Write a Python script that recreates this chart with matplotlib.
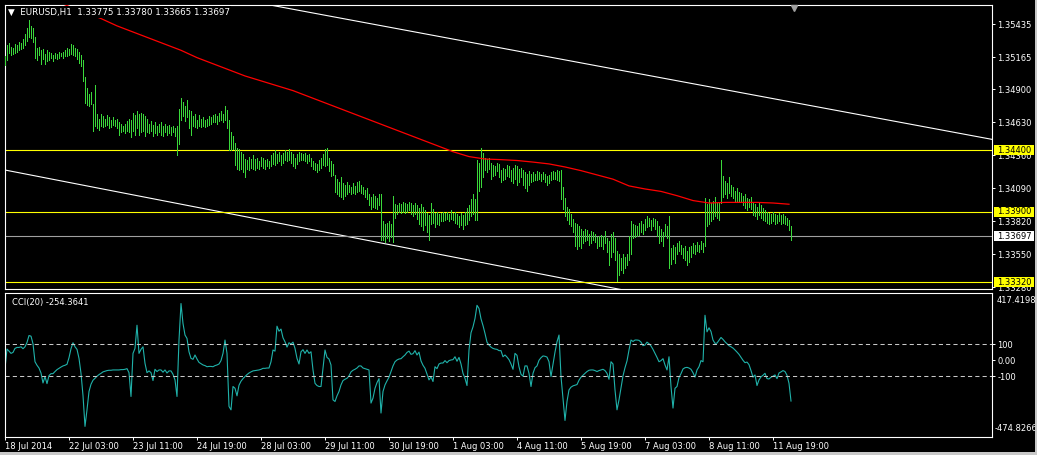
import numpy as np
import matplotlib
matplotlib.use('Agg')
import matplotlib.pyplot as plt
from matplotlib.patches import Rectangle

W, H = 1037, 455
BASE = 1.3300          # bar prices below are pips above BASE

# EURUSD H1, one value per bar
HIGH_PIPS = [
    217, 226, 228, 225, 224, 227, 226, 229, 228, 231, 235, 240, 247, 242, 240, 233,
    224, 225, 222, 223, 219, 222, 221, 220, 218, 220, 219, 221, 220, 221, 222, 224,
    223, 227, 226, 224, 223, 221, 218, 214, 200, 191, 186, 188, 178, 194, 170, 166,
    170, 168, 166, 169, 167, 165, 167, 165, 166, 163, 162, 160, 162, 164, 166, 165,
    171, 169, 172, 170, 171, 170, 168, 166, 162, 164, 161, 163, 160, 162, 163, 160,
    162, 160, 161, 159, 160, 158, 160, 174, 183, 180, 176, 181, 173, 172, 168, 170,
    165, 169, 166, 167, 165, 166, 168, 167, 169, 170, 168, 171, 172, 170, 176, 173,
    165, 155, 152, 146, 142, 141, 139, 137, 133, 132, 135, 133, 136, 133, 134, 131,
    135, 134, 132, 133, 131, 136, 138, 140, 137, 139, 136, 138, 140, 139, 141, 139,
    137, 134, 137, 139, 138, 137, 138, 136, 137, 134, 131, 130, 129, 132, 134, 137,
    141, 142, 134, 131, 129, 120, 117, 114, 118, 113, 112, 114, 112, 110, 113, 111,
    114, 115, 112, 110, 108, 109, 104, 102, 104, 103, 101, 104, 104, 82, 80, 81,
    82, 80, 103, 96, 95, 97, 96, 98, 97, 96, 98, 97, 95, 97, 95, 93,
    96, 94, 91, 89, 87, 97, 92, 89, 90, 88, 89, 90, 89, 90, 88, 91,
    89, 90, 88, 86, 89, 87, 90, 93, 95, 100, 104, 100, 132, 130, 142, 138,
    134, 133, 134, 130, 128, 127, 130, 129, 124, 126, 125, 128, 127, 124, 126, 128,
    127, 125, 126, 124, 122, 121, 123, 121, 122, 121, 123, 122, 121, 122, 121, 119,
    120, 122, 123, 122, 124, 123, 124, 110, 101, 94, 92, 88, 84, 81, 80, 78,
    76, 74, 76, 75, 72, 74, 73, 72, 69, 70, 71, 70, 74, 68, 66, 72,
    73, 68, 58, 55, 52, 55, 53, 55, 70, 82, 80, 79, 78, 81, 82, 80,
    84, 86, 85, 83, 85, 84, 82, 78, 76, 73, 80, 78, 86, 60, 63, 61,
    64, 66, 63, 60, 62, 58, 61, 62, 64, 63, 65, 63, 66, 64, 101, 96,
    100, 97, 99, 102, 97, 98, 132, 119, 115, 113, 118, 112, 110, 107, 109, 106,
    105, 103, 104, 101, 100, 102, 98, 96, 94, 97, 95, 93, 91, 90, 89, 88,
    90, 88, 87, 89, 87, 88, 86, 85, 83, 77.8,
]
LOW_PIPS = [
    210, 214, 220, 218, 219, 220, 221, 222, 223, 224, 226, 230, 233, 232, 229, 216,
    214, 218, 211, 215, 211, 213, 214, 216, 213, 216, 215, 216, 217, 216, 217, 217,
    218, 219, 218, 217, 215, 212, 209, 197, 179, 177, 176, 178, 156, 160, 158, 157,
    160, 159, 160, 161, 158, 159, 161, 160, 158, 153, 155, 156, 154, 156, 155, 151,
    156, 153, 158, 153, 155, 156, 152, 155, 154, 156, 152, 154, 153, 155, 153, 152,
    155, 153, 154, 153, 155, 152, 136, 145, 165, 168, 164, 167, 158, 153, 160, 159,
    158, 160, 159, 160, 159, 160, 161, 162, 163, 163, 162, 164, 165, 163, 165, 158,
    140, 140, 141, 128, 125, 124, 125, 122, 118, 125, 124, 126, 125, 124, 126, 125,
    127, 126, 125, 127, 126, 127, 129, 128, 130, 131, 128, 130, 132, 131, 132, 130,
    127, 126, 129, 131, 132, 132, 131, 130, 131, 127, 125, 124, 122, 124, 126, 128,
    127, 128, 123, 119, 120, 106, 104, 103, 102, 100, 103, 104, 106, 104, 105, 104,
    106, 107, 105, 104, 102, 100, 95, 92, 94, 93, 92, 95, 67, 67, 65, 68,
    66, 69, 65, 85, 88, 90, 89, 90, 89, 90, 91, 88, 86, 88, 84, 80,
    78, 75, 79, 73, 67, 80, 81, 77, 80, 79, 82, 82, 83, 84, 82, 84,
    83, 81, 80, 77, 79, 76, 79, 80, 83, 86, 88, 83, 83, 107, 110, 118,
    124, 122, 125, 117, 119, 120, 123, 118, 114, 116, 117, 119, 118, 115, 113, 117,
    112, 114, 118, 112, 109, 107, 112, 114, 115, 116, 116, 117, 115, 117, 114, 112,
    113, 116, 117, 117, 116, 115, 100, 92, 86, 83, 80, 78, 73, 62, 59, 62,
    60, 64, 66, 67, 63, 64, 67, 65, 60, 62, 62, 59, 64, 57, 46, 53,
    57, 50, 33, 38, 42, 40, 44, 46, 50, 55, 68, 69, 70, 71, 73, 72,
    75, 77, 78, 75, 78, 76, 70, 64, 66, 62, 70, 68, 44, 47, 51, 48,
    55, 58, 55, 52, 50, 46, 49, 53, 56, 55, 58, 57, 59, 57, 62, 78,
    80, 82, 84, 86, 85, 83, 97, 102, 104, 101, 105, 103, 101, 98, 99, 99,
    98, 95, 93, 91, 94, 92, 87, 86, 84, 87, 85, 83, 82, 81, 80, 81,
    82, 80, 81, 82, 80, 81, 80, 79, 75, 66.65,
]

# red moving average, one reading every MA_STEP bars (pips above BASE)
MA_STEP = 8
MA_PIPS = [278, 273, 268, 263, 258, 253, 248, 242, 237, 232, 227, 222, 216,
           211, 206, 201, 197, 193, 189, 184, 179, 174, 169, 164, 159, 154,
           149, 144, 139, 135, 133, 132.5, 131.8, 130.5, 129, 126.5, 123.5,
           120, 116.5, 111, 108.5, 106.5, 103, 99, 97, 97.5, 97.5, 97.5, 97, 96]

# CCI(20), one value per bar
CCI = [
    -51, 69, 56, 42, 48, 73, 79, 79, 83, 71, 83, 110, 153, 149, 102, -10,
    -32, -49, -80, -142, -102, -146, -96, -84, -84, -71, -59, -51, -43, -36, -32, -26,
    15, 71, 108, 83, 67, 11, -82, -220, -412, -309, -195, -150, -125, -113, -100, -90,
    -82, -73, -69, -65, -63, -63, -61, -61, -61, -61, -59, -59, -57, -53, -78, -226,
    42, 73, 217, 42, 67, 83, -20, -78, -67, -78, -127, -57, -71, -61, -61, -75,
    -61, -80, -67, -67, -88, -123, -226, 125, 352, 228, 156, 135, 52, 11, 5, 32,
    7, -14, -22, -30, -34, -41, -39, -39, -41, -34, -30, -24, -3, 42, 125, 42,
    -288, -309, -164, -175, -222, -156, -131, -115, -102, -90, -80, -73, -67, -65, -63, -61,
    -57, -51, -51, -49, -49, -10, 63, 56, 211, 180, 193, 139, 114, 81, 108, 100,
    112, 73, 11, -24, 52, 65, 42, 63, 42, 52, -61, -144, -158, -164, -164, -51,
    63, 17, 7, -30, -247, -257, -222, -195, -154, -127, -119, -113, -98, -73, -63, -57,
    -49, -36, -36, -49, -53, -57, -61, -267, -236, -175, -140, -115, -329, -195, -154, -129,
    -106, -71, -36, -10, 1, 7, 9, 21, 32, 48, 56, 36, 40, 59, 32, 50,
    -5, -32, -51, -86, -123, -104, -133, -41, -53, -24, -18, -18, -3, -16, -3, 1,
    3, 21, -7, 17, -24, -82, -113, -158, 63, 170, 207, 259, 341, 321, 257, 215,
    166, 112, 94, 81, 73, 69, 67, 59, 59, 21, 32, 19, 3, -24, -57, 42,
    30, -41, -88, -100, -36, -36, -82, -164, -82, -47, -36, -1, 15, 26, 24, 19,
    -10, -102, -24, 50, 114, 156, -102, -236, -375, -257, -185, -168, -160, -156, -152, -125,
    -106, -94, -82, -71, -63, -61, -61, -65, -71, -65, -61, -57, -65, -82, -119, -10,
    -24, -185, -309, -247, -173, -98, -47, -5, 63, 125, 116, 125, 125, 123, 112, 90,
    94, 112, 102, 88, 67, 42, 17, -10, -3, 9, -30, -61, 21, -164, -298, -175,
    -164, -108, -84, -55, -47, -45, -49, -57, -78, -106, -61, -41, -3, -10, 279, 176,
    201, 178, 125, 104, 106, 123, 141, 129, 114, 102, 90, 83, 75, 63, 50, 36,
    17, -1, -16, -12, -28, -65, -106, -92, -158, -123, -104, -94, -82, -115, -117, -106,
    -100, -92, -115, -80, -73, -65, -71, -94, -144, -254.3641,
]

# trend lines: (bar index, pips above BASE) anchors
UPPER_LINE = [(132.5, 259.1), (492.5, 149.4)]
LOWER_LINE = [(0.0, 124.0), (172.5, 69.2)]

LEVELS = [1.34400, 1.33900, 1.33320]
LAST_PRICE = 1.33697
HEADER = "\u25bc  EURUSD,H1  1.33775 1.33780 1.33665 1.33697"
PRICE_TICKS = [1.35435, 1.35165, 1.34900, 1.34630, 1.34360, 1.34090,
               1.33820, 1.33550, 1.33280]
CCI_MAX, CCI_MIN = 417.4198, -474.8266
DATE_STEP = 32
DATE_LABELS = ["18 Jul 2014", "22 Jul 03:00", "23 Jul 11:00", "24 Jul 19:00",
               "28 Jul 03:00", "29 Jul 11:00", "30 Jul 19:00", "1 Aug 03:00",
               "4 Aug 11:00", "5 Aug 19:00", "7 Aug 03:00", "8 Aug 11:00",
               "11 Aug 19:00"]

GREEN = '#3ad83a'
FS = 6


def box(l, t, r, b):
    return [l / W, 1 - b / H, (r - l) / W, (b - t) / H]


def style(ax):
    ax.set_facecolor('black')
    for s in ax.spines.values():
        s.set_color('white')
        s.set_linewidth(0.8)
    ax.tick_params(colors='white', labelcolor='white', labelsize=FS,
                   length=2.2, width=0.7, pad=1.5)


fig = plt.figure(figsize=(W / 100, H / 100), dpi=100, facecolor='black')
ax = fig.add_axes(box(4.5, 4.5, 992, 289))
ax2 = fig.add_axes(box(4.5, 293, 992, 436.5))
style(ax)
style(ax2)

n = len(HIGH_PIPS)
idx = np.arange(n)
high = BASE + np.array(HIGH_PIPS) / 1e4
low = BASE + np.array(LOW_PIPS) / 1e4
xmax = 493.5

# ---- price window (1px bars, 2px apart)
ax.vlines(idx, low, high, colors=GREEN, lw=0.5, antialiased=False, zorder=3)

ma_x = np.arange(len(MA_PIPS)) * MA_STEP
ax.plot(ma_x, BASE + np.array(MA_PIPS) / 1e4, color='#ff0000', lw=0.9, zorder=4)

for (x0, p0), (x1, p1), start in [(UPPER_LINE[0], UPPER_LINE[1], 100),
                                  (LOWER_LINE[0], LOWER_LINE[1], -1)]:
    k = (p1 - p0) / (x1 - x0)
    xs = np.array([start, xmax])
    ax.plot(xs, BASE + (p0 + k * (xs - x0)) / 1e4, color='white', lw=0.8, zorder=2)

for lv in LEVELS:
    ax.axhline(lv, color='#ffff00', lw=0.8, zorder=2)
ax.axhline(LAST_PRICE, color='#a0a0a0', lw=0.8, zorder=2)

ax.set_xlim(-0.25, xmax)
ax.set_ylim(1.33266, 1.35595)
ax.set_xticks([])
ax.yaxis.tick_right()
ax.set_yticks(PRICE_TICKS)
ax.set_yticklabels(['%.5f' % t for t in PRICE_TICKS])

ytr = ax.get_yaxis_transform()
hbox = 10 * (1.35595 - 1.33266) / 284.5
for lv, fc in [(v, '#ffff00') for v in LEVELS] + [(LAST_PRICE, 'white')]:
    ax.add_patch(Rectangle((1.002, lv - hbox / 2), 0.0405, hbox, transform=ytr,
                           facecolor=fc, edgecolor='none', clip_on=False, zorder=5))
    ax.text(1.0048, lv, '%.5f' % lv, transform=ytr, ha='left', va='center',
            fontsize=FS, color='black', zorder=6)

ax.plot([394.5], [0.988], marker='v', ms=5, color='#a0a0a0',
        transform=ax.get_xaxis_transform(), clip_on=False, zorder=6)

fig.text(8 / W, 1 - 12 / H, HEADER, color='white', fontsize=6.3, va='center',
         ha='left', bbox=dict(boxstyle='square,pad=0.15', fc='black', ec='none'),
         zorder=10)

# ---- CCI window
ax2.plot(idx, CCI, color='#20b2aa', lw=0.8)
for lv in (100, -100):
    ax2.axhline(lv, color='#c8c8c8', lw=0.75, ls=(0, (4, 3)))
ax2.set_xlim(-0.25, xmax)
ax2.set_ylim(CCI_MIN, CCI_MAX)
ax2.yaxis.tick_right()
ax2.set_yticks([100, 0, -100])
ax2.set_yticklabels(['100', '0.00', '-100'])
ax2.text(1.005, 0.951, '%.4f' % CCI_MAX, transform=ax2.transAxes, ha='left',
         va='center', color='white', fontsize=FS)
ax2.text(1.003, 0.059, '%.4f' % CCI_MIN, transform=ax2.transAxes, ha='left',
         va='center', color='white', fontsize=FS)
ax2.text(8 / 987.5, 1 - 9.5 / 143.5, 'CCI(20) %.4f' % CCI[-1], transform=ax2.transAxes,
         ha='left', va='center', color='white', fontsize=FS)

ax2.set_xticks(np.arange(len(DATE_LABELS)) * DATE_STEP)
ax2.set_xticklabels(DATE_LABELS, ha='left')

# window frame
fig.add_artist(Rectangle((1035 / W, 0), 2 / W, 1, transform=fig.transFigure,
                         facecolor='#c8c8c8', edgecolor='none'))
fig.add_artist(Rectangle((0, 0), 1, 3 / H, transform=fig.transFigure,
                         facecolor='#c8c8c8', edgecolor='none'))

fig.savefig('out.png', dpi=100, facecolor='black')
